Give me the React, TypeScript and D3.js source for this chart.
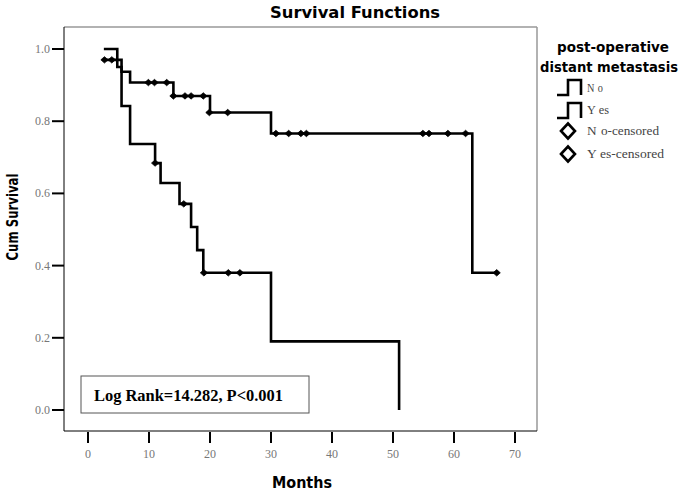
import React from "react";
import * as d3 from "d3";

// ---- Data ----
const xTicks = [0, 10, 20, 30, 40, 50, 60, 70];
const yTicks = [0.0, 0.2, 0.4, 0.6, 0.8, 1.0];

// "No" group (no post-operative distant metastasis)
const noStepTimes = [2.6, 5.5, 6.9, 14, 20, 30, 63, 67];
const noStepSurv = [0.97, 0.937, 0.907, 0.87, 0.824, 0.766, 0.38, 0.38];
const noCensTimes = [2.7, 3.9, 9.9, 10.9, 12.9, 14, 15.9, 16.9, 18.9, 19.9, 22.9, 30.8, 32.9, 34.9, 35.8, 54.9, 55.9, 59, 61.9, 67];
const noCensSurv = [0.97, 0.97, 0.907, 0.907, 0.907, 0.87, 0.87, 0.87, 0.87, 0.824, 0.824, 0.766, 0.766, 0.766, 0.766, 0.766, 0.766, 0.766, 0.766, 0.38];

// "Yes" group
const yesStepTimes = [2.6, 4.8, 5.5, 6.9, 11, 11.9, 15, 16.9, 17.9, 18.9, 30, 51];
const yesStepSurv = [1.0, 0.95, 0.842, 0.737, 0.684, 0.629, 0.571, 0.507, 0.443, 0.38, 0.19, 0.0];
const yesCensTimes = [11, 15.7, 19, 23, 24.9];
const yesCensSurv = [0.684, 0.571, 0.38, 0.38, 0.38];

const legendLabels = ["No", "Yes", "No-censored", "Yes-censored"];

export default function App() {
  const W = 685, H = 493;
  const x = d3.scaleLinear().domain([0, 70]).range([88, 515]);
  const y = d3.scaleLinear().domain([0, 1]).range([410, 49]);
  const frame = { l: 64, r: 537, t: 27, b: 431 };

  const line = d3
    .line<[number, number]>()
    .x((d) => x(d[0]))
    .y((d) => y(d[1]))
    .curve(d3.curveStepAfter);

  const noPts = noStepTimes.map((t, i) => [t, noStepSurv[i]] as [number, number]);
  const yesPts = yesStepTimes.map((t, i) => [t, yesStepSurv[i]] as [number, number]);

  const marker = (cx: number, cy: number, k: string) => (
    <path key={k} d={`M${cx - 3.6},${cy} L${cx},${cy - 3.2} L${cx + 3.6},${cy} L${cx},${cy + 3.2} Z`} fill="#000" stroke="#000" strokeWidth={0.8} />
  );

  const serif = "'Liberation Serif', 'DejaVu Serif', serif";
  const sans = "'DejaVu Sans', Verdana, sans-serif";

  const legendText = (label: string, yy: number, len: number) => (
    <text x={587} y={yy} fontFamily={serif} fontSize={12} fill="#444" textLength={len} lengthAdjust="spacingAndGlyphs">
      <tspan>{label[0]}</tspan>
      <tspan dx={4}>{label.slice(1)}</tspan>
    </text>
  );

  const stepSym = (top: number) =>
    `M557,${top + 15} L568,${top + 15} L568,${top} L581,${top} L581,${top + 15}`;

  return (
    <svg width={W} height={H} style={{ position: "absolute", left: 0, top: 0, background: "#fff" }}>
      <rect x={0} y={0} width={W} height={H} fill="#fff" />
      {/* title */}
      <text x={355} y={18} textAnchor="middle" fontFamily={sans} fontWeight="bold" fontSize={15} textLength={170} lengthAdjust="spacingAndGlyphs">Survival Functions</text>

      {/* frame */}
      <line x1={frame.l} x2={frame.r} y1={frame.t} y2={frame.t} stroke="#999" strokeWidth={1.5} />
      <line x1={frame.r} x2={frame.r} y1={frame.t} y2={frame.b} stroke="#999" strokeWidth={1.5} />
      <line x1={frame.l} x2={frame.l} y1={frame.t} y2={frame.b} stroke="#000" strokeWidth={1} />
      <line x1={frame.l} x2={frame.r} y1={frame.b} y2={frame.b} stroke="#000" strokeWidth={1} />

      {/* y ticks */}
      {yTicks.map((v) => (
        <g key={"y" + v}>
          <line x1={52} x2={frame.l} y1={y(v)} y2={y(v)} stroke="#000" strokeWidth={2} />
          <text x={50} y={y(v) + 4} textAnchor="end" fontFamily={serif} fontSize={12} fill="#777">{v.toFixed(1)}</text>
        </g>
      ))}
      {/* x ticks */}
      {xTicks.map((v) => (
        <g key={"x" + v}>
          <line x1={x(v)} x2={x(v)} y1={432} y2={443} stroke="#000" strokeWidth={2} />
          <text x={x(v)} y={458} textAnchor="middle" fontFamily={serif} fontSize={12} fill="#777">{v}</text>
        </g>
      ))}

      {/* axis titles */}
      <text x={302} y={488} textAnchor="middle" fontFamily={sans} fontWeight="bold" fontSize={16} textLength={60} lengthAdjust="spacingAndGlyphs">Months</text>
      <text transform="translate(18,217) rotate(-90)" textAnchor="middle" fontFamily={sans} fontWeight="bold" fontSize={15} textLength={87} lengthAdjust="spacingAndGlyphs">Cum Survival</text>

      {/* curves */}
      <path d={line(noPts) || ""} fill="none" stroke="#000" strokeWidth={2.6} />
      <path d={line(yesPts) || ""} fill="none" stroke="#000" strokeWidth={2.6} />
      {noCensTimes.map((t, i) => marker(x(t), y(noCensSurv[i]), "n" + i))}
      {yesCensTimes.map((t, i) => marker(x(t), y(yesCensSurv[i]), "y" + i))}

      {/* log rank box */}
      <rect x={81} y={376} width={228} height={37} fill="#fff" stroke="#555" strokeWidth={1} />
      <text x={94} y={401} fontFamily={serif} fontWeight="bold" fontSize={17} textLength={189} lengthAdjust="spacingAndGlyphs">Log Rank=14.282, P&lt;0.001</text>

      {/* legend */}
      <text x={613} y={52} textAnchor="middle" fontFamily={sans} fontWeight="bold" fontSize={13.5} textLength={112} lengthAdjust="spacingAndGlyphs">post-operative</text>
      <text x={609} y={72} textAnchor="middle" fontFamily={sans} fontWeight="bold" fontSize={13.5} textLength={138} lengthAdjust="spacingAndGlyphs">distant metastasis</text>
      <path d={stepSym(80)} fill="none" stroke="#000" strokeWidth={2.6} />
      <path d={stepSym(103)} fill="none" stroke="#000" strokeWidth={2.6} />
      {legendText(legendLabels[0], 92, 16)}
      {legendText(legendLabels[1], 114, 22)}
      {[131, 154].map((cy) => (
        <path key={cy} d={`M561,${cy} L568,${cy - 7.5} L575,${cy} L568,${cy + 7.5} Z`} fill="none" stroke="#000" strokeWidth={2.6} />
      ))}
      {legendText(legendLabels[2], 135, 72)}
      {legendText(legendLabels[3], 158, 77)}
    </svg>
  );
}
